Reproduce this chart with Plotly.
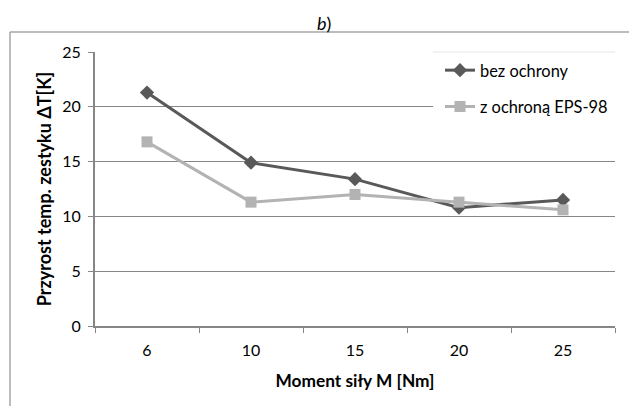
import plotly.graph_objects as go

categories = ["6", "10", "15", "20", "25"]
bez_ochrony = [21.3, 14.9, 13.4, 10.8, 11.5]
z_ochrona = [16.8, 11.3, 12.0, 11.3, 10.6]
y_ticks = [0, 5, 10, 15, 20, 25]

FONT = "Lato, Open Sans, sans-serif"
W, H = 637, 406
OFF = 8  # page body margin
L, T = 95 - OFF, 52 - OFF
R = W - (615 - OFF)
B = H - (326 - OFF)
PW = W - L - R
PH = H - T - B


def px(xp):
    return (xp - OFF - L) / PW


def py(yp):
    return (H - B - (yp - OFF)) / PH


fig = go.Figure()
fig.add_trace(go.Scatter(
    x=categories, y=bez_ochrony, name="bez ochrony", mode="lines+markers",
    legendgroup="a",
    line=dict(color="#595959", width=3),
    marker=dict(symbol="diamond", size=11, color="#595959"),
))
fig.add_trace(go.Scatter(
    x=categories, y=z_ochrona, name="z ochroną EPS-98", mode="lines+markers",
    legendgroup="b",
    line=dict(color="#b3b3b3", width=3),
    marker=dict(symbol="square", size=11, color="#b3b3b3"),
))

fig.update_layout(
    width=W, height=H,
    margin=dict(l=L, r=R, t=T, b=B),
    paper_bgcolor="white", plot_bgcolor="white",
    font=dict(family=FONT, size=16, color="#000000"),
    showlegend=True,
    legend=dict(x=px(440), y=py(53), xref="paper", yref="paper",
                xanchor="left", yanchor="top",
                bgcolor="rgba(0,0,0,0)", font=dict(size=16.4, family=FONT),
                traceorder="grouped", tracegroupgap=12),
    xaxis=dict(
        type="category", range=[-0.5, 4.5], tickson="boundaries",
        ticks="outside", ticklen=5, tickcolor="#868686",
        showline=True, linecolor="#868686", linewidth=2,
        showgrid=False, tickfont=dict(size=16), ticklabelstandoff=9,
        title=dict(text="<b>Moment siły M [Nm]</b>", font=dict(size=17.3), standoff=17),
    ),
    yaxis=dict(
        range=[0, 25], tickvals=y_ticks, ticks="outside", ticklen=5,
        tickcolor="#868686", showline=True, linecolor="#868686", linewidth=2,
        showgrid=True, gridcolor="#868686", gridwidth=1,
        zeroline=False, tickfont=dict(size=16), ticklabelstandoff=4,
        title=dict(text="<b>Przyrost temp. zestyku ΔT[K]</b>", font=dict(size=18), standoff=6),
    ),
)

# white box behind legend covering gridlines
fig.add_shape(type="rect", xref="paper", yref="paper",
              x0=px(433), x1=px(640), y0=py(125), y1=py(51),
              fillcolor="white", line=dict(width=0), layer="above")
fig.add_shape(type="line", xref="paper", yref="paper",
              x0=px(433), x1=px(615), y0=py(52), y1=py(52),
              line=dict(color="#e6e6e6", width=1), layer="above")

# outer chart-area border (cropped at right/bottom)
fig.add_shape(type="line", xref="paper", yref="paper",
              x0=px(10), x1=px(660), y0=py(32), y1=py(32),
              line=dict(color="#a6a6a6", width=1.5))
fig.add_shape(type="line", xref="paper", yref="paper",
              x0=px(10), x1=px(10), y0=py(32), y1=py(430),
              line=dict(color="#a6a6a6", width=1.5))

fig.add_annotation(text="<i>b</i>)", xref="paper", yref="paper",
                   x=px(324), y=py(23),
                   showarrow=False, font=dict(size=18, family=FONT),
                   xanchor="center", yanchor="middle")

fig.write_html("out.html")
